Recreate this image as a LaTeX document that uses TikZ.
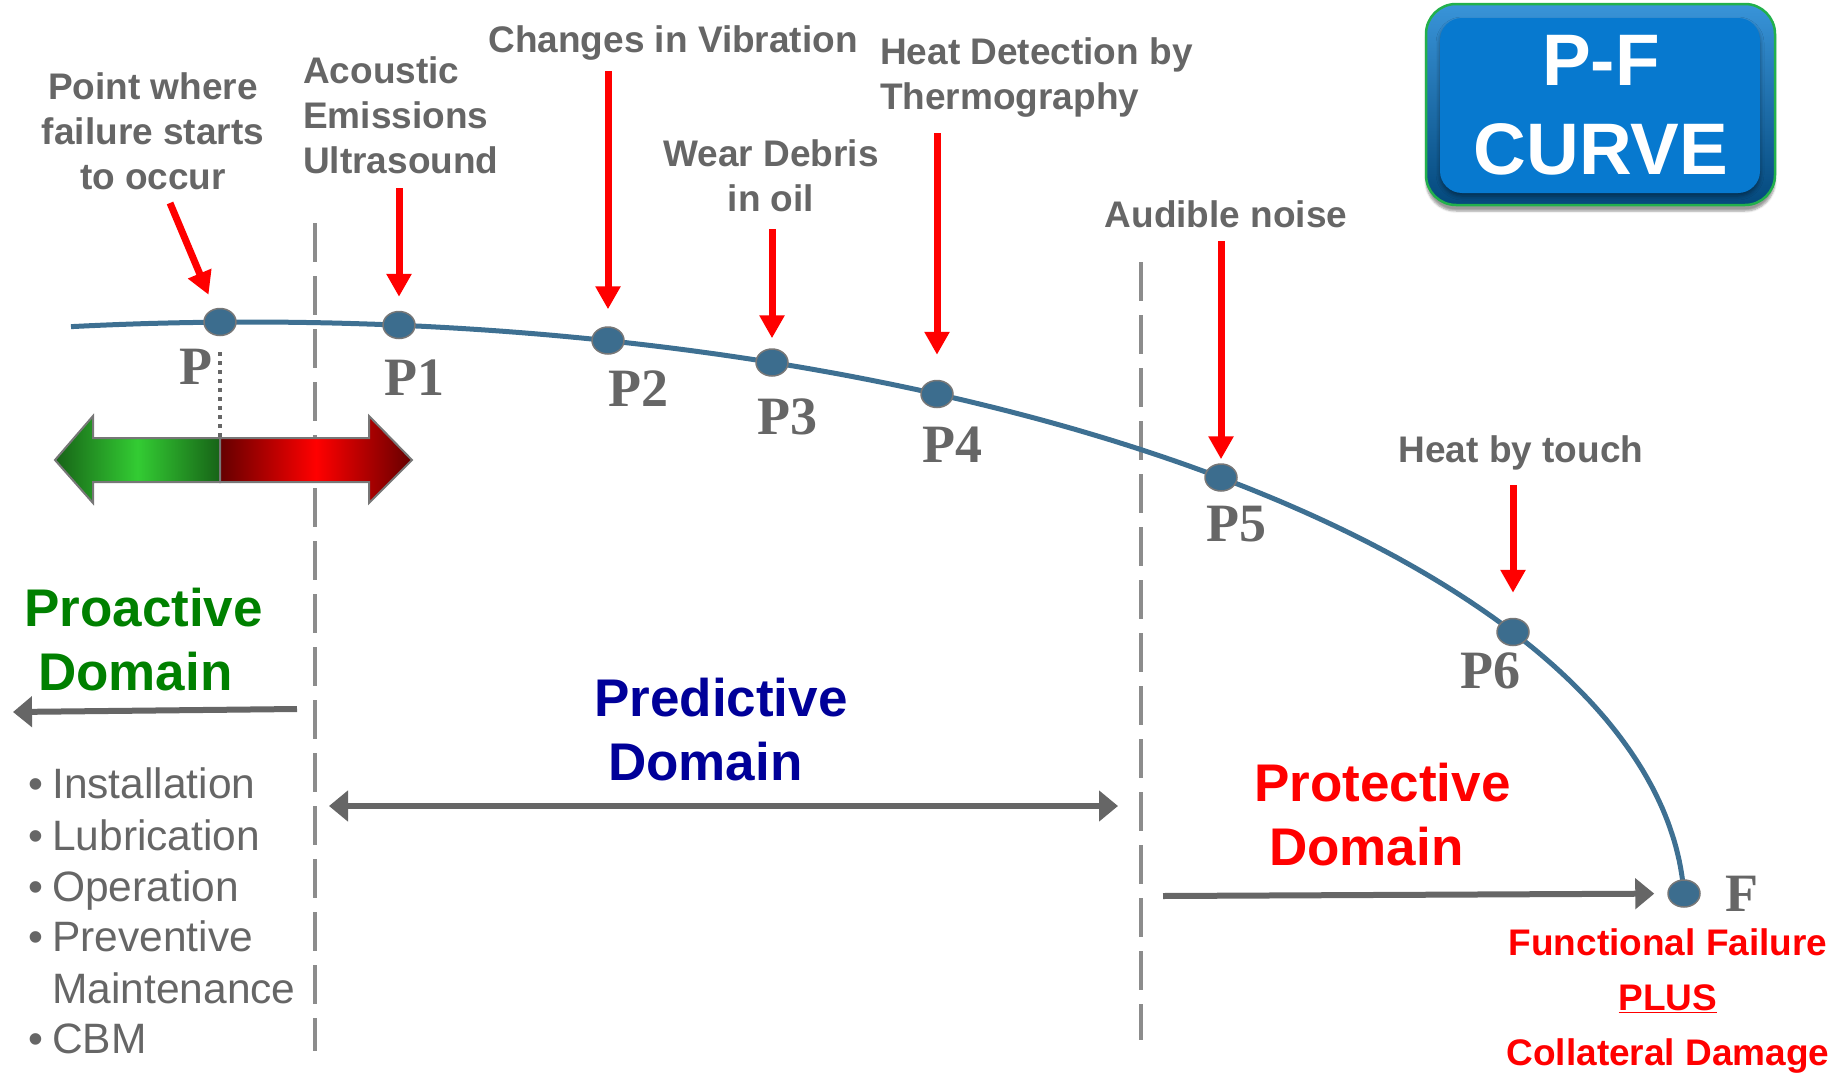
\documentclass[tikz,border=0pt]{standalone}
\usepackage{fontspec}
\setmainfont{Liberation Sans}
\newfontfamily\markfont{Liberation Serif}
\usetikzlibrary{arrows.meta}
\usetikzlibrary{shapes.geometric}
\usetikzlibrary{shadows.blur}
\usetikzlibrary{positioning}

\definecolor{inkgray}{HTML}{666666}
\definecolor{edgegray}{HTML}{777777}
\definecolor{dashgray}{HTML}{8C8C8C}
\definecolor{curveblue}{HTML}{3E7092}
\definecolor{dotblue}{HTML}{3C6D8E}
\definecolor{alarmred}{HTML}{FF0000}
\definecolor{proactgreen}{HTML}{008000}
\definecolor{prednavy}{HTML}{000099}
\definecolor{greendark}{HTML}{176317}
\definecolor{greenlight}{HTML}{33CC33}
\definecolor{reddark}{HTML}{650000}
\definecolor{boxblue}{HTML}{0779CF}
\definecolor{boxrim}{HTML}{22B04C}

\tikzset{% 
	hint/.style={font=\bfseries\fontsize{37}{45}\selectfont,text=inkgray,inner sep=0pt,align=center},
	ptlabel/.style={font=\markfont\bfseries\fontsize{54}{60}\selectfont,text=inkgray,inner sep=0pt},
	pfdot/.style={ellipse,minimum width=32pt,minimum height=27pt,inner sep=0pt,fill=dotblue,draw=edgegray,line width=1.5pt}
}
\tikzset{% 
	redarrow/.style={draw=alarmred,line width=7pt,-{Triangle[width=24pt,length=23pt]}},
	grayarrow/.style={draw=inkgray,line width=6pt,-{Triangle[width=30pt,length=19pt]}},
	grayboth/.style={draw=inkgray,line width=6pt,{Triangle[width=30pt,length=19pt]}-{Triangle[width=30pt,length=19pt]}},
	divider/.style={draw=dashgray,line width=4pt,dash pattern=on 39pt off 14pt},
	pfcurve/.style={draw=curveblue,line width=5pt}
}
\tikzset{% 
	domainlbl/.style={font=\bfseries\fontsize{53}{64}\selectfont,inner sep=0pt,align=left,anchor=west},
	listitem/.style={font=\fontsize{42.5}{51}\selectfont,text=inkgray,inner sep=0pt,anchor=base west},
	bulletmark/.style={font=\fontsize{42.5}{51}\selectfont,text=inkgray,inner sep=0pt,anchor=base},
	failtext/.style={font=\bfseries\fontsize{37}{55}\selectfont,text=alarmred,inner sep=0pt,align=center},
	leftgreen/.style={draw=edgegray,line width=2pt,left color=greendark,right color=greendark,middle color=greenlight},
	rightred/.style={draw=edgegray,line width=2pt,left color=reddark,right color=reddark,middle color=alarmred}
}

\begin{document}
\begin{tikzpicture}[x=1pt,y=-1pt]
	\useasboundingbox (0,0) rectangle (1845,1076);

	%Domain borders
	\draw [divider] (315,223) -- (315,1051);
	\draw [divider] (1141,262) -- (1141,1040);

	%The P-F curve (quarter of an ellipse)
	\draw [pfcurve] plot [domain=1.79:97.17,samples=150,variable=\t] ({250+1434.7*cos(\t)},{912-590*sin(\t)});

	%Points on the curve
	\foreach \n/\x/\y in {p0/220/322,p1/399/325,p2/608/340.5,p3/772/362.5,p4/937/394,
		p5/1221/477.5,p6/1513/632,f/1684/893.5}
		\coordinate (\n) at (\x,\y);

	\foreach \n in {p0,p1,p2,p3,p4,p5,p6,f}
		\node [pfdot] (d\n) at (\n) {};

	\foreach \n/\txt/\dx/\dy in {p0/P/-24/45,p1/P1/15/53,p2/P2/30/48.5,p3/P3/15/54.5,p4/P4/15/51,p5/P5/15/46.5,p6/P6/-23/39,f/F/58/0}
		\node [ptlabel] (l\n) at ([xshift=\dx pt,yshift=-\dy pt]\n) {\txt};

	%Detection labels
	\node [hint] (startlbl) at (153,131) {Point where\\failure starts\\to occur};
	\node [hint,anchor=west,align=left] (acoustic) at (303,115) {Acoustic\\Emissions\\Ultrasound};
	\node [hint] (vibration) at (673,43) {Changes in Vibration};
	\node [hint,anchor=west,align=left] (thermo) at (880,78) {Heat Detection by\\Thermography};
	\node [hint] (debris) at (771,176) {Wear Debris\\in oil};
	\node [hint] (noise) at (1226,214) {Audible noise};
	\node [hint] (touch) at (1521,453) {Heat by touch};

	%Red arrows
	\coordinate (a0) at (170,203);
	\draw [redarrow,shorten >=15pt] (a0) -- (dp0);
	\foreach \n/\top/\gap in {p1/188/14,p2/71/17,p3/229/10,p4/133/25,p5/241/4,p6/485/25}{
		\coordinate (a\n) at (\n |- 0,\top);
		\draw [redarrow,shorten >=\gap pt] (a\n) -- (d\n);
	}

	%Green and red double arrow
	\coordinate (split) at (220,438);
	\draw [inkgray,line width=4pt,dash pattern=on 4pt off 5pt,shorten <=16pt] (dp0) -- (split);
	\draw [leftgreen] (split) -- (93,438) -- (93,416) -- (55,460) -- (93,503) -- (93,482) -- (220,482) -- cycle;
	\draw [rightred] (split) -- (369,438) -- (369,416) -- (412,460) -- (369,503) -- (369,482) -- (220,482) -- cycle;

	%Domains
	\node [domainlbl,text=proactgreen] (proactive) at (24,640) {Proactive\\\hspace*{14pt}Domain};
	\node [domainlbl,text=prednavy] (predictive) at (594,730) {Predictive\\\hspace*{14pt}Domain};
	\node [domainlbl,text=alarmred] (protective) at (1254,815) {Protective\\\hspace*{15pt}Domain};

	\coordinate (proA) at (297,709);
	\coordinate (proB) at (13,712);
	\draw [grayarrow] (proA) -- (proB);
	\coordinate (predA) at (329,806);
	\coordinate (predB) at (1118,806);
	\draw [grayboth] (predA) -- (predB);
	\coordinate (protA) at (1163,896);
	\draw [grayarrow,shorten >=13pt] (protA) -- (df);

	%Proactive tasks
	\foreach \what/\yy in {Installation/798,Lubrication/850,Operation/901,Preventive/951,CBM/1053}{
		\node [bulletmark] (b\what) at (36,\yy) {\textbullet};
		\node [listitem] (\what) at (52,\yy) {\what};
	}
	\node [listitem] (Maintenance) at (52,1003) {Maintenance};

	%Functional failure
	\node [failtext] (ffail) at (1668,1001) {Functional Failure\\\underline{PLUS}\\Collateral Damage};

	%Title box
	\node [rounded corners=30pt,draw=boxrim,line width=2.5pt,top color=boxblue!80!white,bottom color=boxblue!60!black,
		minimum width=349pt,minimum height=201pt,blur shadow={shadow blur steps=5,shadow xshift=0pt,shadow yshift=-6pt}] (pfout) at (1600.5,104.5) {};
	\node [rounded corners=22pt,fill=boxblue,minimum width=320pt,minimum height=175pt,
		blur shadow={shadow blur steps=4,shadow xshift=0pt,shadow yshift=-3pt,shadow blur radius=4pt}] (pfin) at (1600,105.5) {};
	\node [font=\bfseries\fontsize{73}{89}\selectfont,text=white,align=center,inner sep=0pt] (pftitle) at (1601,105) {P-F\\CURVE};
\end{tikzpicture}
\end{document}
